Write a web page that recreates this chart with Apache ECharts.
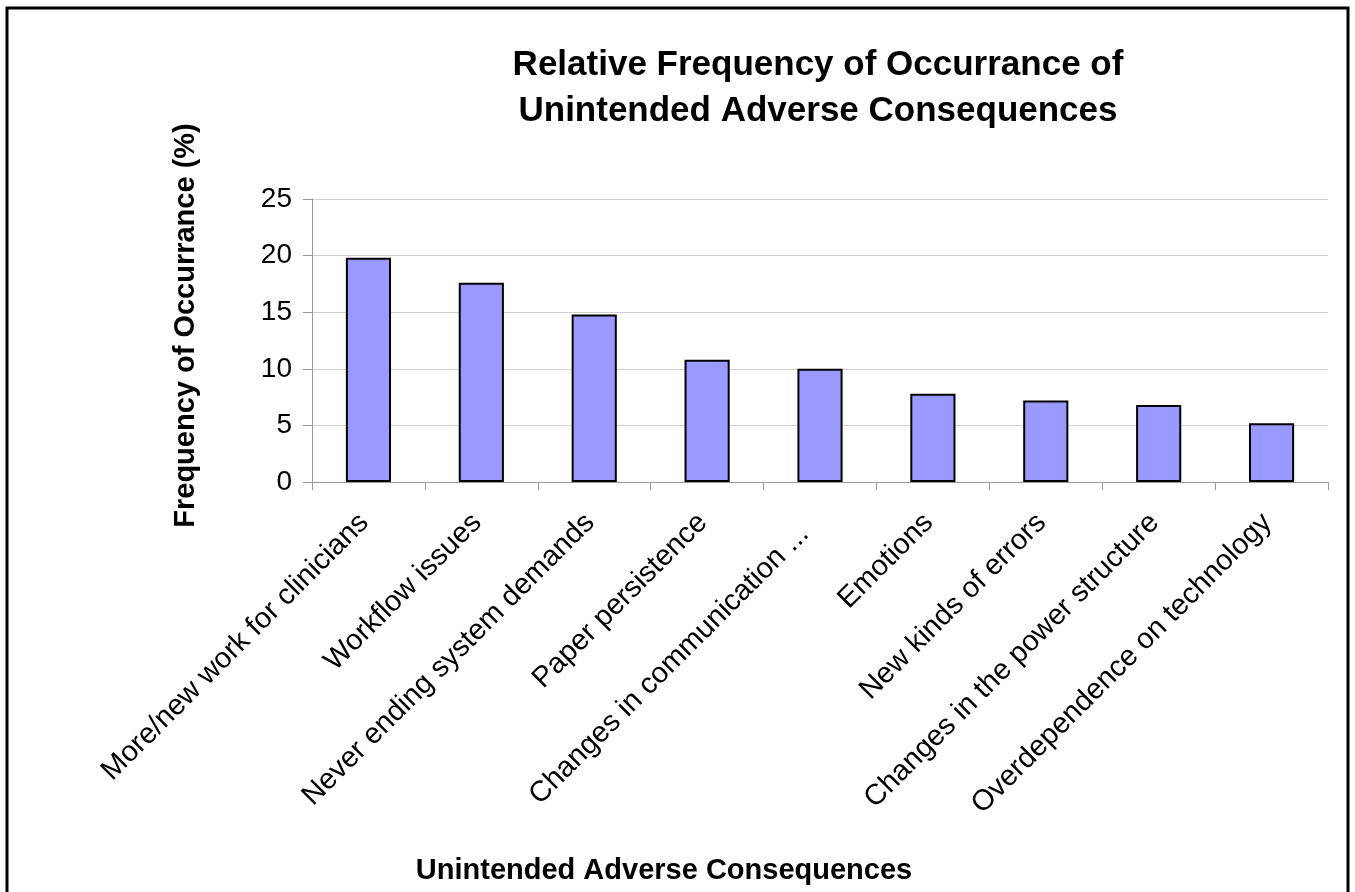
<!DOCTYPE html>
<html>
<head>
<meta charset="utf-8">
<script src="https://cdn.jsdelivr.net/npm/echarts@6/dist/echarts.min.js"></script>
<style>
  html, body { margin: 0; padding: 0; background: #ffffff; }
  #chart { width: 1355px; height: 892px; }
</style>
</head>
<body>
<div id="chart"></div>
<script>
// Categories of unintended adverse consequences
const categories = [
  'More/new work for clinicians',
  'Workflow issues',
  'Never ending system demands',
  'Paper persistence',
  'Changes in communication ...  ',
  'Emotions',
  'New kinds of errors',
  'Changes in the power structure',
  'Overdependence on technology'
];

// Relative frequency of occurrance (%)
const frequency = [19.8, 17.6, 14.8, 10.8, 10.0, 7.8, 7.2, 6.8, 5.2];

// Value axis ticks
const yTicks = [0, 5, 10, 15, 20, 25];

const fontFamily = '"Liberation Sans", Arial, sans-serif';

const chart = echarts.init(document.getElementById('chart'), null, { renderer: 'canvas' });

chart.setOption({
  backgroundColor: '#ffffff',
  animation: false,
  title: [
    {
      text: 'Relative Frequency of Occurrance of\nUnintended Adverse Consequences',
      left: 813,
      top: 37,
      textAlign: 'center',
      textStyle: {
        fontFamily: fontFamily,
        fontWeight: 'bold',
        fontSize: 35,
        lineHeight: 46,
        color: '#000000'
      }
    },
    {
      text: 'Unintended Adverse Consequences',
      left: 659,
      top: 851,
      textAlign: 'center',
      textStyle: {
        fontFamily: fontFamily,
        fontWeight: 'bold',
        fontSize: 29,
        color: '#000000'
      }
    }
  ],
  graphic: [
    {
      type: 'rect',
      shape: { x: 7, y: 8, width: 1341, height: 900 },
      style: { fill: 'none', stroke: '#000000', lineWidth: 3 },
      silent: true
    }
  ],
  grid: {
    left: 312,
    right: 27,
    top: 199,
    bottom: 410,
    containLabel: false
  },
  xAxis: {
    type: 'category',
    data: categories,
    axisLine: { show: true, lineStyle: { color: '#999999', width: 1 } },
    axisTick: { show: true, alignWithLabel: false, length: 8, lineStyle: { color: '#999999' } },
    axisLabel: {
      interval: 0,
      rotate: 45,
      margin: 32,
      padding: [0, 6, 0, 0],
      fontFamily: fontFamily,
      fontSize: 29,
      color: '#000000'
    },
    splitLine: { show: false }
  },
  yAxis: {
    type: 'value',
    min: 0,
    max: yTicks[yTicks.length - 1],
    interval: yTicks[1] - yTicks[0],
    name: 'Frequency of Occurrance (%)',
    nameLocation: 'middle',
    nameGap: 112,
    nameTextStyle: {
      fontFamily: fontFamily,
      fontWeight: 'bold',
      fontSize: 29,
      color: '#000000',
      padding: [0, 0, 0, 30]
    },
    axisLine: { show: true, lineStyle: { color: '#999999', width: 1 } },
    axisTick: { show: true, length: 9, lineStyle: { color: '#999999' } },
    axisLabel: {
      margin: 20,
      fontFamily: fontFamily,
      fontSize: 28,
      color: '#000000'
    },
    splitLine: { show: true, lineStyle: { color: '#d0d0d0', width: 1 } }
  },
  series: [
    {
      type: 'bar',
      data: frequency,
      barWidth: '40%',
      itemStyle: {
        color: '#9999ff',
        borderColor: '#000000',
        borderWidth: 2
      }
    }
  ]
});
</script>
</body>
</html>
